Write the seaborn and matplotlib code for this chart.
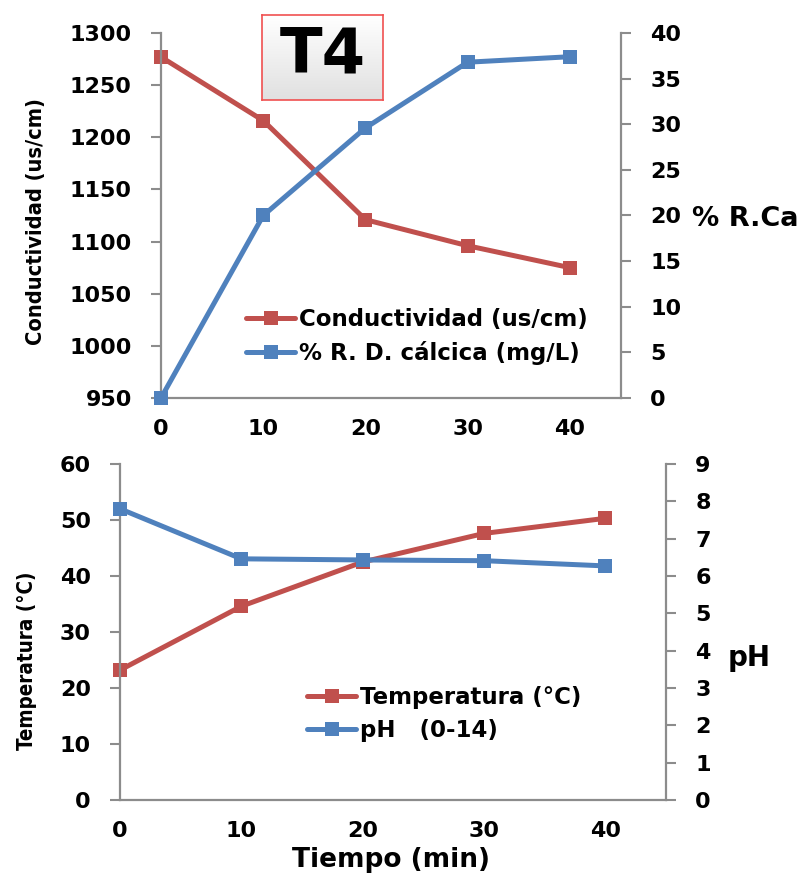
import matplotlib
matplotlib.use("Agg")
import matplotlib.pyplot as plt
import numpy as np
import pandas as pd
import seaborn as sns

# valores (T4)
tiempo = [0, 10, 20, 30, 40]
conductividad = [1277, 1216, 1121, 1096, 1075]
remocion_ca = [0.0, 20.0, 29.6, 36.8, 37.4]
temperatura = [23.2, 34.6, 42.5, 47.6, 50.3]
ph = [7.80, 6.46, 6.43, 6.41, 6.27]

ticks_x = [0, 10, 20, 30, 40]
ticks_cond = list(range(950, 1301, 50))
ticks_rca = list(range(0, 41, 5))
ticks_temp = list(range(0, 61, 10))
ticks_ph = list(range(0, 10))

rojo = "#C0504D"
azul = "#4F81BD"
gris = "#8C8C8C"

sns.set_style("white")
plt.rcParams['font.family'] = ['DejaVu Sans']
plt.rcParams['font.weight'] = 'bold'
plt.rcParams['text.color'] = 'black'

fig = plt.figure(figsize=(8.03, 8.73), dpi=100)
W, H = 803, 873

def px_axes(x0, y0, x1, y1):
    return fig.add_axes([x0 / W, 1 - y1 / H, (x1 - x0) / W, (y1 - y0) / H])

def estilo(ax, ax2):
    for s in ["top", "right"]:
        ax.spines[s].set_visible(False)
    for s in ["top", "left", "bottom"]:
        ax2.spines[s].set_visible(False)
    for a, s in [(ax, "left"), (ax, "bottom"), (ax2, "right")]:
        a.spines[s].set_color(gris)
        a.spines[s].set_linewidth(1.6)
    ax.tick_params(axis="x", length=0, pad=15, labelsize=16, labelcolor="black")
    ax.tick_params(axis="y", direction="out", length=7, width=1.5, color=gris,
                   pad=14, labelsize=16, left=True, labelcolor="black")
    ax2.tick_params(axis="y", direction="out", length=7, width=1.5, color=gris,
                    pad=14, labelsize=16, right=True, labelcolor="black")
    for lab in ax.get_xticklabels() + ax.get_yticklabels() + ax2.get_yticklabels():
        lab.set_fontweight("bold")
    ax.set_xlabel("")
    ax.set_ylabel("")
    ax2.set_ylabel("")
    ax.set_facecolor("none")
    ax2.set_facecolor("none")

kw = dict(marker="s", markersize=10, linewidth=3.6, markeredgewidth=0, legend=False)
leg_kw = dict(loc="upper left", frameon=False, borderpad=0, borderaxespad=0,
              handlelength=2.15, handletextpad=0.15, labelspacing=0.45,
              prop={"size": 16.5, "weight": "bold"})

# ---- grafico superior
ax1 = px_axes(161, 33, 621, 398)
ax1b = ax1.twinx()
sns.lineplot(x=tiempo, y=conductividad, ax=ax1, color=rojo, **kw)
sns.lineplot(x=tiempo, y=remocion_ca, ax=ax1b, color=azul, **kw)
ax1.set_xlim(0, 45)
ax1.set_ylim(950, 1300)
ax1b.set_ylim(0, 40)
ax1.set_xticks(ticks_x)
ax1.set_yticks(ticks_cond)
ax1b.set_yticks(ticks_rca)
estilo(ax1, ax1b)
for l in ax1.get_lines() + ax1b.get_lines():
    l.set_clip_on(False)
h = [ax1.get_lines()[0], ax1b.get_lines()[0]]
fig.legend(h, ["Conductividad (us/cm)", "% R. D. cálcica (mg/L)"],
           bbox_to_anchor=(246 / W, 1 - 308 / H), **leg_kw)

fig.text(36 / W, 1 - 222 / H, "Conductividad (us/cm)", rotation=90, ha="center",
         va="center", fontsize=15.7, fontweight="bold", stretch="condensed")
fig.text(692 / W, 1 - 219 / H, "% R.Ca", ha="left", va="center",
         fontsize=19.5, fontweight="bold")

# ---- grafico inferior
ax2 = px_axes(120, 464, 666, 800)
ax2b = ax2.twinx()
sns.lineplot(x=tiempo, y=temperatura, ax=ax2, color=rojo, **kw)
sns.lineplot(x=tiempo, y=ph, ax=ax2b, color=azul, **kw)
ax2.set_xlim(0, 45)
ax2.set_ylim(0, 60)
ax2b.set_ylim(0, 9)
ax2.set_xticks(ticks_x)
ax2.set_yticks(ticks_temp)
ax2b.set_yticks(ticks_ph)
estilo(ax2, ax2b)
for l in ax2.get_lines() + ax2b.get_lines():
    l.set_clip_on(False)
h = [ax2.get_lines()[0], ax2b.get_lines()[0]]
fig.legend(h, ["Temperatura (°C)", "pH   (0-14)"],
           bbox_to_anchor=(307 / W, 1 - 686 / H), **leg_kw)

fig.text(27 / W, 1 - 661 / H, "Temperatura (°C)", rotation=90, ha="center",
         va="center", fontsize=14.8, fontweight="bold", stretch="condensed")
fig.text(728 / W, 1 - 658 / H, "pH", ha="left", va="center",
         fontsize=20, fontweight="bold")
fig.text(391 / W, 1 - 860 / H, "Tiempo (min)", ha="center", va="center",
         fontsize=19, fontweight="bold")

# ---- recuadro T4
axt = px_axes(262, 15, 383, 100)
grad = np.linspace(1.0, 0.88, 50).reshape(-1, 1)
axt.imshow(np.dstack([grad, grad, grad]), aspect="auto", extent=[0, 1, 0, 1])
axt.set_xticks([])
axt.set_yticks([])
for s in axt.spines.values():
    s.set_color("#F05050")
    s.set_linewidth(1.2)
axt.text(0.5, 0.52, "T4", ha="center", va="center", fontsize=45,
         fontweight="bold", color="black", transform=axt.transAxes)

fig.savefig("out.png", dpi=100)
